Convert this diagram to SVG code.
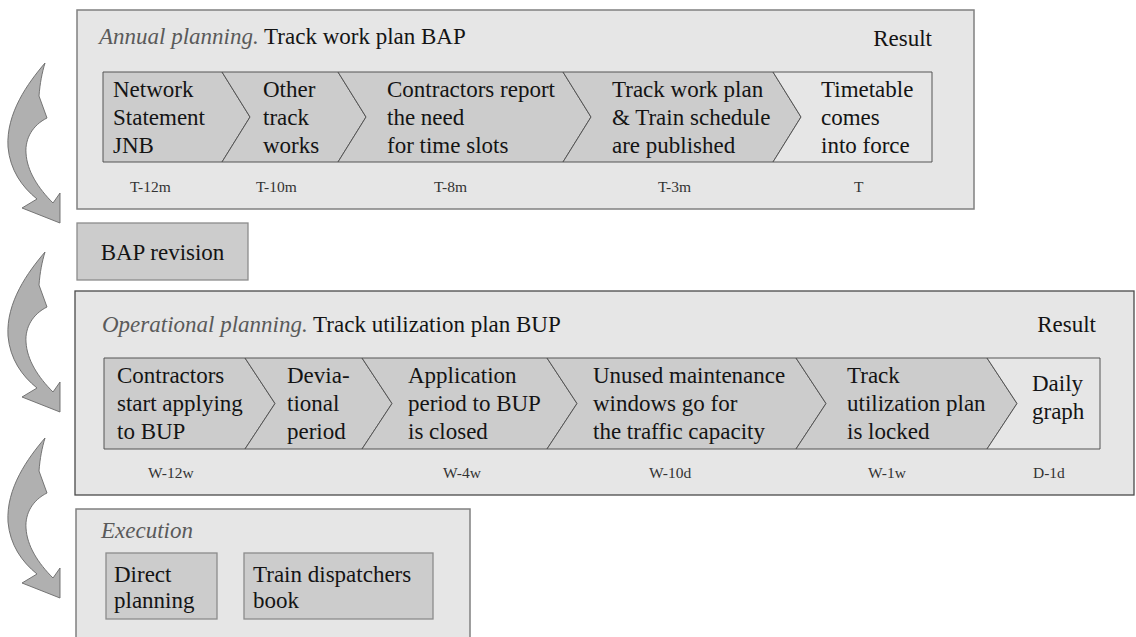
<svg xmlns="http://www.w3.org/2000/svg" width="1136" height="637" viewBox="0 0 1136 637" font-family="'Liberation Serif', 'DejaVu Serif', serif">
<defs>
<style>
text{font-family:'Liberation Serif','DejaVu Serif',serif;fill:#141414}
.t{font-size:23px}
.s{font-size:15.5px;fill:#333}
.it{font-style:italic;fill:#5a5a5a}
.panel{fill:#e6e6e6;stroke:#808080;stroke-width:1.5}
.panel2{fill:#e6e6e6;stroke:#4a4a4a;stroke-width:1.3}
.chev{fill:#cccccc;stroke:#555;stroke-width:1}
.res{fill:#e6e6e6;stroke:#555;stroke-width:1}
.box{fill:#cccccc;stroke:#8c8c8c;stroke-width:1.3}
.arr{fill:#b0b0b0;stroke:#6a6a6a;stroke-width:0.9}
</style>
<path id="carrow" d="M45,0 C28,20 6,50 8,84 C10,107 22,124 37,136 L22,145 L60,160 L60,130 L53,140 C38,125 27,108 26,90 C25,75 33,62 47,55 L39,33 C40,20 42,10 45,0 Z"/>
</defs>

<g id="annual-planning">
<rect class="panel" x="77" y="10" width="897" height="199"/>
<text class="t" x="99" y="44"><tspan class="it">Annual planning.</tspan> Track work plan BAP</text>
<text class="t" x="932" y="46" text-anchor="end">Result</text>
<g id="a1">
<polygon class="chev" points="103,72 222,72 250,117 222,162 103,162"/>
<text class="t"><tspan x="113" y="97">Network</tspan><tspan x="113" y="125">Statement</tspan><tspan x="113" y="153">JNB</tspan></text>
</g>
<g id="a2">
<polygon class="chev" points="222,72 338,72 366,117 338,162 222,162 250,117"/>
<text class="t"><tspan x="263" y="97">Other</tspan><tspan x="263" y="125">track</tspan><tspan x="263" y="153">works</tspan></text>
</g>
<g id="a3">
<polygon class="chev" points="338,72 563,72 591,117 563,162 338,162 366,117"/>
<text class="t"><tspan x="387" y="97">Contractors report</tspan><tspan x="387" y="125">the need</tspan><tspan x="387" y="153">for time slots</tspan></text>
</g>
<g id="a4">
<polygon class="chev" points="563,72 773,72 801,117 773,162 563,162 591,117"/>
<text class="t"><tspan x="612" y="97">Track work plan</tspan><tspan x="612" y="125">&amp; Train schedule</tspan><tspan x="612" y="153">are published</tspan></text>
</g>
<g id="a5">
<polygon class="res" points="773,72 932,72 932,162 773,162 801,117"/>
<text class="t"><tspan x="821" y="97">Timetable</tspan><tspan x="821" y="125">comes</tspan><tspan x="821" y="153">into force</tspan></text>
</g>
<text class="s" x="130" y="192">T-12m</text>
<text class="s" x="256" y="192">T-10m</text>
<text class="s" x="434" y="192">T-8m</text>
<text class="s" x="658" y="192">T-3m</text>
<text class="s" x="854" y="192">T</text>
</g>

<g id="bap-revision">
<rect class="box" x="77" y="223" width="171" height="57"/>
<text class="t" x="162.5" y="260" text-anchor="middle">BAP revision</text>
</g>

<g id="operational-planning">
<rect class="panel2" x="75" y="291" width="1059" height="204"/>
<text class="t" x="102" y="332"><tspan class="it">Operational planning.</tspan> Track utilization plan BUP</text>
<text class="t" x="1096" y="332" text-anchor="end">Result</text>
<g id="o1">
<polygon class="chev" points="104,358 245,358 275,403.5 245,449 104,449"/>
<text class="t"><tspan x="117" y="383">Contractors</tspan><tspan x="117" y="411">start applying</tspan><tspan x="117" y="439">to BUP</tspan></text>
</g>
<g id="o2">
<polygon class="chev" points="245,358 362,358 392,403.5 362,449 245,449 275,403.5"/>
<text class="t"><tspan x="287" y="383">Devia-</tspan><tspan x="287" y="411">tional</tspan><tspan x="287" y="439">period</tspan></text>
</g>
<g id="o3">
<polygon class="chev" points="362,358 547,358 577,403.5 547,449 362,449 392,403.5"/>
<text class="t"><tspan x="408" y="383">Application</tspan><tspan x="408" y="411">period to BUP</tspan><tspan x="408" y="439">is closed</tspan></text>
</g>
<g id="o4">
<polygon class="chev" points="547,358 796,358 826,403.5 796,449 547,449 577,403.5"/>
<text class="t"><tspan x="593" y="383">Unused maintenance</tspan><tspan x="593" y="411">windows go for</tspan><tspan x="593" y="439">the traffic capacity</tspan></text>
</g>
<g id="o5">
<polygon class="chev" points="796,358 987,358 1017,403.5 987,449 796,449 826,403.5"/>
<text class="t"><tspan x="847" y="383">Track</tspan><tspan x="847" y="411">utilization plan</tspan><tspan x="847" y="439">is locked</tspan></text>
</g>
<g id="o6">
<polygon class="res" points="987,358 1100,358 1100,449 987,449 1017,403.5"/>
<text class="t"><tspan x="1032" y="391">Daily</tspan><tspan x="1032" y="419">graph</tspan></text>
</g>
<text class="s" x="148" y="478">W-12w</text>
<text class="s" x="443" y="478">W-4w</text>
<text class="s" x="649" y="478">W-10d</text>
<text class="s" x="868" y="478">W-1w</text>
<text class="s" x="1033" y="478">D-1d</text>
</g>

<g id="execution">
<rect class="panel" x="76" y="509" width="394" height="140"/>
<text class="t it" x="101" y="538">Execution</text>
<g id="direct-planning">
<rect class="box" x="106" y="553" width="111" height="66"/>
<text class="t"><tspan x="114" y="582">Direct</tspan><tspan x="114" y="608">planning</tspan></text>
</g>
<g id="train-dispatchers-book">
<rect class="box" x="244" y="553" width="189" height="66"/>
<text class="t"><tspan x="253" y="582">Train dispatchers</tspan><tspan x="253" y="608">book</tspan></text>
</g>
</g>

<g id="connectors">
<use href="#carrow" class="arr" transform="translate(0,63)"/>
<use href="#carrow" class="arr" transform="translate(0,252)"/>
<use href="#carrow" class="arr" transform="translate(0,438)"/>
</g>
</svg>
